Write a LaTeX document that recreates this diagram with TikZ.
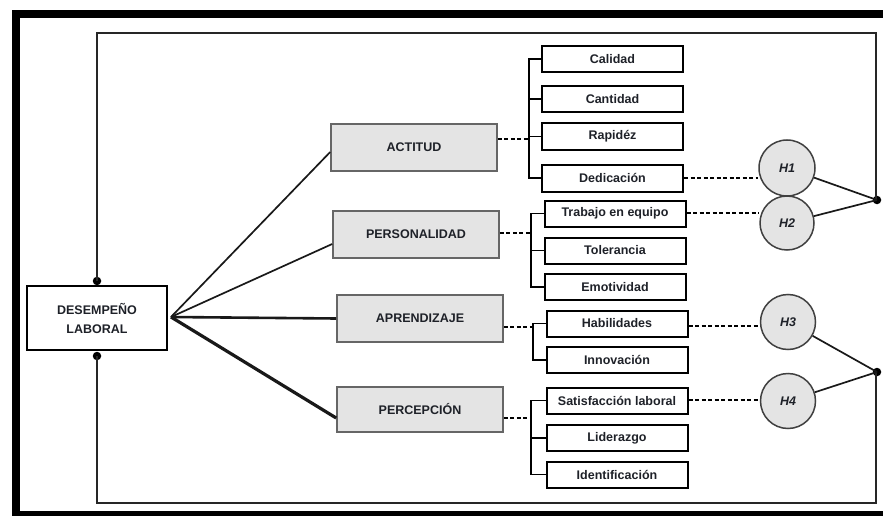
\documentclass[tikz,border=0pt]{standalone}
\usepackage{fontspec}
\setmainfont{Liberation Sans}
\definecolor{ink}{HTML}{1E2128}
\definecolor{boxgray}{HTML}{E4E4E4}
\begin{document}
\begin{tikzpicture}[x=1pt,y=-1pt,
  txt/.style={font=\fontsize{12.5}{19}\selectfont\bfseries, text=ink},
  dlbox/.style={txt, draw=black, line width=1.8pt, fill=white, minimum width=140pt, minimum height=64pt, align=center, inner sep=0pt},
  midbox/.style={txt, draw=black!60, line width=1.6pt, fill=boxgray, minimum width=166pt, minimum height=47pt, inner sep=0pt},
  subbox/.style={txt, draw=black, line width=2pt, fill=white, minimum width=141pt, minimum height=26pt, inner sep=0pt},
  hyp/.style={circle, draw=black!75, line width=1.5pt, fill=boxgray, minimum size=55pt, inner sep=0pt, font=\fontsize{12.5}{14}\selectfont\bfseries\itshape, text=ink},
  conn/.style={line width=1.7pt, draw=black!90},
  frameline/.style={line width=1.8pt, draw=black!85},
  dsh/.style={line width=1.6pt, dash pattern=on 4pt off 2.5pt},
  brk/.style={line width=1.8pt},
  dotc/.style={circle, fill=black, inner sep=0pt, minimum size=8.5pt}
]
\useasboundingbox (0,0) rectangle (883,516);
\clip (0,0) rectangle (883,516);
\fill[white] (0,0) rectangle (883,516);

% outer thick frame
\draw[line width=7.7pt] (16.3,14.2) rectangle (900,515);

% main nodes
\node[dlbox] (dl) at (97,318) {DESEMPEÑO\\LABORAL};
\node[midbox] (act) at (414,147.5) {ACTITUD};
\node[midbox] (per) at (416,234.5) {PERSONALIDAD};
\node[midbox] (apr) at (420,318.5) {APRENDIZAJE};
\node[midbox, minimum height=45pt] (pcp) at (420,409.5) {PERCEPCIÓN};

% sub boxes
\node[subbox] (cal) at (612.5,59) {Calidad};
\node[subbox] (can) at (612.5,99) {Cantidad};
\node[subbox] (rap) at (612.5,136.5) {Rapidéz};
\node[subbox, minimum height=27pt] (ded) at (612.5,178) {Dedicación};
\node[subbox] (tra) at (615,213.5) {Trabajo en equipo};
\node[subbox] (tol) at (615,250.5) {Tolerancia};
\node[subbox] (emo) at (615,287) {Emotividad};
\node[subbox] (hab) at (617,323.5) {Habilidades};
\node[subbox] (inn) at (617,360) {Innovación};
\node[subbox] (sat) at (617,400.5) {Satisfacción laboral};
\node[subbox] (lid) at (617,438) {Liderazgo};
\node[subbox] (ide) at (617,474.5) {Identificación};

% hypotheses
\node[hyp, minimum size=56pt] (h1) at (787,168) {H1};
\node[hyp, minimum size=54pt] (h2) at (787,223) {H2};
\node[hyp] (h3) at (788,322) {H3};
\node[hyp] (h4) at (788,401) {H4};

% dots and frame corners
\node[dotc] (dt) at (97,281) {};
\node[dotc] (db) at (97,356) {};
\node[dotc] (r1) at (877,200) {};
\node[dotc] (r2) at (877,372) {};
\coordinate (c1) at (97,33);
\coordinate (c2) at (876,33);
\coordinate (c3) at (97,503);
\coordinate (c4) at (876,503);

\draw[frameline] (dt.center) -- (c1) -- (c2) -- (c2 |- r1.center) -- (r1.center);
\draw[frameline] (db.center) -- (c3) -- (c4) -- (c4 |- r2.center) -- (r2.center);

% fan from desempeno
\coordinate (fan) at (171,317);
\draw[conn] (fan) -- ([yshift=-4.5pt]act.west);
\draw[conn] (fan) -- ([yshift=-9.5pt]per.west);
\draw[conn, line width=2.6pt] (fan) -- (apr.west);
\draw[conn, line width=3.2pt] (fan) -- ([yshift=-8.5pt]pcp.west);

% brackets
\coordinate (b1) at (529,139);
\coordinate (b2) at (531,233);
\coordinate (b3) at (533,327);
\coordinate (b4) at (531,418);

\draw[brk] (cal.west) -- (cal.west -| b1) -- (ded.west -| b1) -- (ded.west);
\draw[brk] (can.west) -- (can.west -| b1);
\draw[brk] (rap.west) -- (rap.west -| b1);

\draw[brk] (tra.west) -- (tra.west -| b2) -- (emo.west -| b2) -- (emo.west);
\draw[brk] (tol.west) -- (tol.west -| b2);

\draw[brk] (hab.west) -- (hab.west -| b3) -- (inn.west -| b3) -- (inn.west);

\draw[brk] (sat.west) -- (sat.west -| b4) -- (ide.west -| b4) -- (ide.west);
\draw[brk] (lid.west) -- (lid.west -| b4);

% dashed from main boxes to brackets
\draw[dsh] (act.east |- b1) -- (b1);
\draw[dsh] (per.east |- b2) -- (b2);
\draw[dsh] (apr.east |- b3) -- (b3);
\draw[dsh] (pcp.east |- b4) -- (b4);

% dashed from indicators to hypotheses
\draw[dsh] (ded.east) -- (ded.east -| h1.west);
\draw[dsh] ([yshift=0.5pt]tra.east) -- ([yshift=0.5pt]tra.east -| h2.west);
\draw[dsh] ([yshift=-2.5pt]hab.east) -- ([yshift=-2.5pt]hab.east -| h3.west);
\draw[dsh] ([yshift=0.5pt]sat.east) -- ([yshift=0.5pt]sat.east -| h4.west);

% hypotheses to dots
\draw[conn] (h1) -- (r1.center);
\draw[conn] (h2) -- (r1.center);
\draw[conn] (h3) -- (r2.center);
\draw[conn] (h4) -- (r2.center);
\end{tikzpicture}
\end{document}
